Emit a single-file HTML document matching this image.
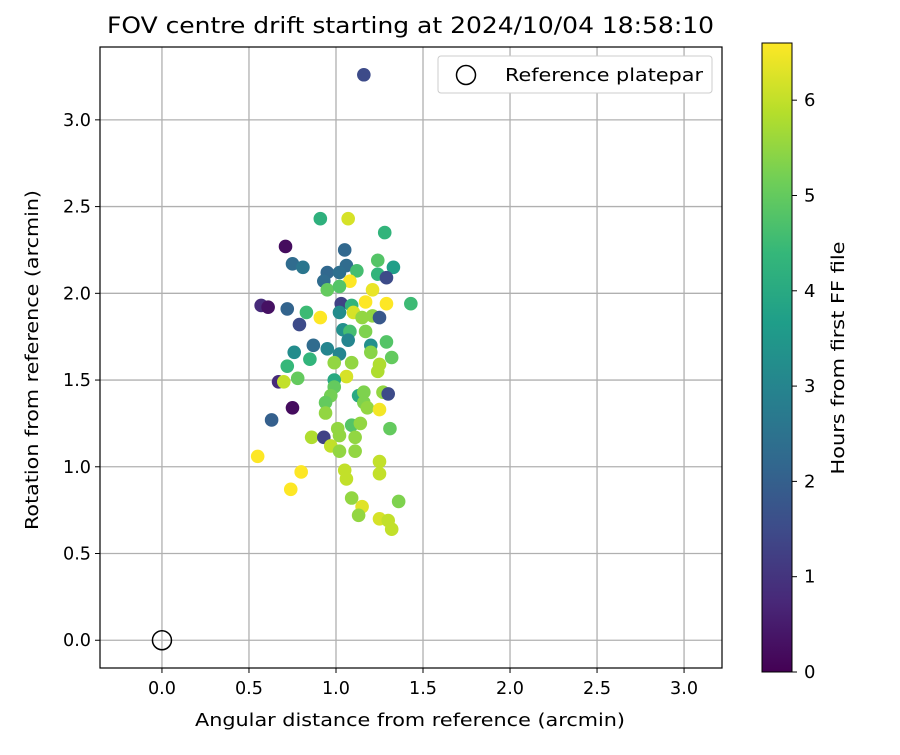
<!DOCTYPE html>
<html><head><meta charset="utf-8"><style>
body{margin:0;background:#fff;font-family:"Liberation Sans","DejaVu Sans",sans-serif}
svg text{font-family:"DejaVu Sans","Liberation Sans",sans-serif}
</style></head><body>
<svg id="c" width="900" height="750" xmlns="http://www.w3.org/2000/svg"></svg>
<script>
const xVals=[1.16,0.91,1.07,1.28,0.71,1.05,1.24,1.33,0.75,0.81,1.06,1.12,1.24,1.29,0.95,0.93,1.02,1.08,0.95,1.02,1.21,1.17,1.29,1.43,0.57,0.61,0.72,0.83,0.79,0.91,1.03,1.09,1.02,1.10,1.15,1.21,1.25,1.04,1.08,1.17,1.07,1.20,1.29,0.76,0.85,0.87,0.95,1.02,1.20,1.32,0.72,0.99,1.09,1.25,1.24,0.67,0.70,0.78,1.06,0.99,0.99,0.97,1.13,1.16,1.27,1.30,0.94,1.16,1.18,1.25,0.75,0.63,0.94,1.09,1.14,1.31,0.86,0.93,1.01,1.02,0.97,1.02,1.11,1.11,0.55,0.80,0.74,1.05,1.06,1.25,1.25,1.09,1.15,1.13,1.36,1.25,1.30,1.32];
const yVals=[3.26,2.43,2.43,2.35,2.27,2.25,2.19,2.15,2.17,2.15,2.16,2.13,2.11,2.09,2.12,2.07,2.12,2.07,2.02,2.04,2.02,1.95,1.94,1.94,1.93,1.92,1.91,1.89,1.82,1.86,1.94,1.93,1.89,1.89,1.86,1.87,1.86,1.79,1.78,1.78,1.73,1.70,1.72,1.66,1.62,1.70,1.68,1.65,1.66,1.63,1.58,1.60,1.60,1.59,1.55,1.49,1.49,1.51,1.52,1.50,1.46,1.41,1.41,1.43,1.43,1.42,1.37,1.37,1.34,1.33,1.34,1.27,1.31,1.24,1.25,1.22,1.17,1.17,1.22,1.18,1.12,1.09,1.17,1.09,1.06,0.97,0.87,0.98,0.93,1.03,0.96,0.82,0.77,0.72,0.80,0.70,0.69,0.64];
const hours=[1.5,4.2,6.2,4.3,0.2,2.2,4.8,3.7,2.3,2.6,2.3,4.6,4.3,1.5,2.2,2.3,2.4,6.6,5.0,4.8,6.4,6.6,6.6,4.5,0.8,0.3,2.1,4.5,1.5,6.6,1.3,4.3,3.2,6.2,5.5,5.5,1.8,3.3,4.6,5.3,3,3.3,4.8,3.2,4.3,2.3,3,3,5.4,5,4.4,5.5,5.5,5.8,5.8,0.8,6,5,6.2,4,5,5.2,4,5.3,5.5,1.5,5.0,5.3,5.5,6.5,0.2,2,5.5,4.8,5.5,5,5.8,1.3,5.5,5.5,6,5.5,5.5,5.5,6.6,6.6,6.6,6,6,6,6,5.5,6.3,5.5,5.3,6.2,6,6];
const xTicks=[0,0.5,1,1.5,2,2.5,3];
const yTicks=[0,0.5,1,1.5,2,2.5,3];
const cTicks=[0,1,2,3,4,5,6];
const X0=100,X1=722,Y0=47,Y1=668,XMIN=-0.356,XMAX=3.218,YMIN=-0.16,YMAX=3.42,CMAX=6.6;
const sx=v=>X0+(v-XMIN)/(XMAX-XMIN)*(X1-X0);
const sy=v=>Y1-(v-YMIN)/(YMAX-YMIN)*(Y1-Y0);
const CB0=43,CB1=672,sc=v=>CB1-v/CMAX*(CB1-CB0);
const vir=[[68,1,84],[72,40,120],[62,74,137],[49,104,142],[38,130,142],[31,158,137],[53,183,121],[110,206,88],[181,222,43],[253,231,37]];
function col(h){let t=Math.max(0,Math.min(1,h/CMAX))*(vir.length-1);let i=Math.min(Math.floor(t),vir.length-2),f=t-i;const a=vir[i],b=vir[i+1];return `rgb(${a.map((v,k)=>Math.round(v+(b[k]-v)*f)).join(',')})`;}
const svg=document.getElementById('c');const NS='http://www.w3.org/2000/svg';
function mk(t,a,p){const e=document.createElementNS(NS,t);for(const k in a)e.setAttribute(k,a[k]);(p||svg).appendChild(e);return e;}
function tx(s,x,y,a,p){const e=mk('text',Object.assign({x,y,'font-size':18,fill:'#000'},a),p);e.textContent=s;return e;}
mk('rect',{x:X0,y:Y0,width:X1-X0,height:Y1-Y0,fill:'#fff'});
xTicks.forEach(v=>{const x=sx(v);
let g=mk('line',{x1:x,x2:x,y1:Y0,y2:Y1,stroke:'#b0b0b0','stroke-width':1.3});


mk('line',{x1:x,x2:x,y1:Y1,y2:Y1+5,stroke:'#000'});
let t=tx(v.toFixed(1),x,Y1+26,{'text-anchor':'middle',textLength:28,lengthAdjust:'spacingAndGlyphs'});

});
yTicks.forEach(v=>{const y=sy(v);
let g=mk('line',{x1:X0,x2:X1,y1:y,y2:y,stroke:'#b0b0b0','stroke-width':1.3});


mk('line',{x1:X0-5,x2:X0,y1:y,y2:y,stroke:'#000'});
let t=tx(v.toFixed(1),X0-9,y+6,{'text-anchor':'end',textLength:28,lengthAdjust:'spacingAndGlyphs'});

});
xVals.forEach((v,i)=>{const c=mk('circle',{cx:sx(v),cy:sy(yVals[i]),r:6.8,fill:col(hours[i])});

});
let ref=mk('circle',{cx:sx(0),cy:sy(0),r:9.5,fill:'none',stroke:'#000','stroke-width':1.5});


mk('rect',{x:X0,y:Y0,width:X1-X0,height:Y1-Y0,fill:'none',stroke:'#000','stroke-width':1.2});
let lg=mk('g',{});
mk('rect',{x:438,y:56,width:274,height:37,rx:3,fill:'#fff',stroke:'#ccc'},lg);
mk('circle',{cx:466,cy:75,r:9.5,fill:'none',stroke:'#000','stroke-width':1.5},lg);
tx('Reference platepar',505,81,{textLength:198,lengthAdjust:'spacingAndGlyphs'},lg);
let ti=tx('FOV centre drift starting at 2024/10/04 18:58:10',107,33,{'font-size':22,textLength:607,lengthAdjust:'spacingAndGlyphs'});

let xl=tx('Angular distance from reference (arcmin)',195,726,{textLength:430,lengthAdjust:'spacingAndGlyphs'});

let yl=tx('Rotation from reference (arcmin)',38,360,{'text-anchor':'middle',textLength:340,lengthAdjust:'spacingAndGlyphs',transform:'rotate(-90 38 360)'});

const defs=mk('defs',{});const gr=mk('linearGradient',{id:'vg',x1:0,y1:1,x2:0,y2:0},defs);
vir.forEach((c,i)=>mk('stop',{offset:i/(vir.length-1),'stop-color':`rgb(${c.join(',')})`},gr));
let cb=mk('rect',{x:762,y:CB0,width:30,height:CB1-CB0,fill:'url(#vg)',stroke:'#000','stroke-width':1});

cTicks.forEach(v=>{const y=sc(v);mk('line',{x1:792,x2:797,y1:y,y2:y,stroke:'#000'});
let t=tx(String(v),804,y+6,{});

});
let cl=tx('Hours from first FF file',844,358,{'text-anchor':'middle',textLength:233,lengthAdjust:'spacingAndGlyphs',transform:'rotate(-90 844 358)'});

</script>
</body></html>
